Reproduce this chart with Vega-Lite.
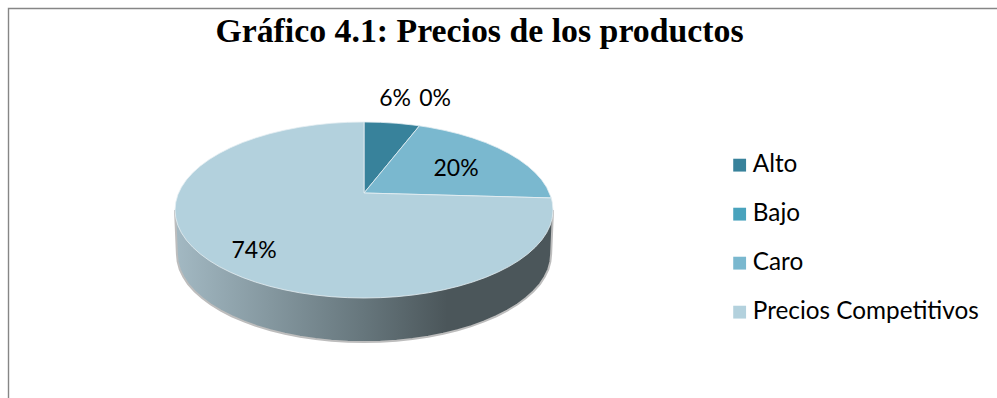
{"$schema":"https://vega.github.io/schema/vega-lite/v6.json","width":997,"height":398,"padding":0,"autosize":{"type":"none"},"background":"white","view":{"stroke":null},
"title":{"text":"Gráfico 4.1: Precios de los productos","font":"Liberation Serif","fontWeight":"bold","fontSize":33.8,"color":"#000000","anchor":"middle","dx":-19,"dy":53},
"config":{"axis":{"disable":true}},
"datasets":{
"marco":[{"i":0,"x":3.36,"y":2.29},{"i":1,"x":-1.881,"y":2.29},{"i":2,"x":-1.881,"y":-2.14}],
"lateral":[{"i":0,"x":1,"y":0},{"i":1,"x":0.99,"y":-0.5},{"i":2,"x":0.986,"y":-0.587},{"i":3,"x":0.975,"y":-0.674},{"i":4,"x":0.956,"y":-0.759},{"i":5,"x":0.931,"y":-0.842},{"i":6,"x":0.897,"y":-0.923},{"i":7,"x":0.857,"y":-1},{"i":8,"x":0.811,"y":-1.074},{"i":9,"x":0.758,"y":-1.143},{"i":10,"x":0.7,"y":-1.207},{"i":11,"x":0.636,"y":-1.266},{"i":12,"x":0.568,"y":-1.319},{"i":13,"x":0.495,"y":-1.366},{"i":14,"x":0.419,"y":-1.406},{"i":15,"x":0.339,"y":-1.44},{"i":16,"x":0.256,"y":-1.466},{"i":17,"x":0.172,"y":-1.485},{"i":18,"x":0.086,"y":-1.496},{"i":19,"x":0,"y":-1.5},{"i":20,"x":-0.086,"y":-1.496},{"i":21,"x":-0.172,"y":-1.485},{"i":22,"x":-0.256,"y":-1.466},{"i":23,"x":-0.339,"y":-1.44},{"i":24,"x":-0.419,"y":-1.406},{"i":25,"x":-0.495,"y":-1.366},{"i":26,"x":-0.568,"y":-1.319},{"i":27,"x":-0.636,"y":-1.266},{"i":28,"x":-0.7,"y":-1.207},{"i":29,"x":-0.758,"y":-1.143},{"i":30,"x":-0.811,"y":-1.074},{"i":31,"x":-0.857,"y":-1},{"i":32,"x":-0.897,"y":-0.923},{"i":33,"x":-0.931,"y":-0.842},{"i":34,"x":-0.956,"y":-0.759},{"i":35,"x":-0.975,"y":-0.674},{"i":36,"x":-0.986,"y":-0.587},{"i":37,"x":-0.99,"y":-0.5},{"i":38,"x":-1,"y":0}],
"sectores":[
{"c":"Alto","i":0,"x":0,"y":0.193},{"c":"Alto","i":1,"x":0,"y":1},{"c":"Alto","i":2,"x":0.087,"y":0.996},{"c":"Alto","i":3,"x":0.174,"y":0.985},{"c":"Alto","i":4,"x":0.259,"y":0.966},{"c":"Alto","i":5,"x":0.293,"y":0.956},{"c":"Alto","i":6,"x":0,"y":0.193},
{"c":"Caro","i":0,"x":0,"y":0.193},{"c":"Caro","i":1,"x":0.293,"y":0.956},{"c":"Caro","i":2,"x":0.342,"y":0.94},{"c":"Caro","i":3,"x":0.423,"y":0.906},{"c":"Caro","i":4,"x":0.5,"y":0.866},{"c":"Caro","i":5,"x":0.574,"y":0.819},{"c":"Caro","i":6,"x":0.643,"y":0.766},{"c":"Caro","i":7,"x":0.707,"y":0.707},{"c":"Caro","i":8,"x":0.766,"y":0.643},{"c":"Caro","i":9,"x":0.819,"y":0.574},{"c":"Caro","i":10,"x":0.866,"y":0.5},{"c":"Caro","i":11,"x":0.906,"y":0.423},{"c":"Caro","i":12,"x":0.94,"y":0.342},{"c":"Caro","i":13,"x":0.966,"y":0.259},{"c":"Caro","i":14,"x":0.991,"y":0.137},{"c":"Caro","i":15,"x":0,"y":0.193},
{"c":"Precios Competitivos","i":0,"x":0,"y":0.193},{"c":"Precios Competitivos","i":1,"x":0.991,"y":0.137},{"c":"Precios Competitivos","i":2,"x":0.996,"y":0.087},{"c":"Precios Competitivos","i":3,"x":1,"y":0},{"c":"Precios Competitivos","i":4,"x":0.996,"y":-0.087},{"c":"Precios Competitivos","i":5,"x":0.985,"y":-0.174},{"c":"Precios Competitivos","i":6,"x":0.966,"y":-0.259},{"c":"Precios Competitivos","i":7,"x":0.94,"y":-0.342},{"c":"Precios Competitivos","i":8,"x":0.906,"y":-0.423},{"c":"Precios Competitivos","i":9,"x":0.866,"y":-0.5},{"c":"Precios Competitivos","i":10,"x":0.819,"y":-0.574},{"c":"Precios Competitivos","i":11,"x":0.766,"y":-0.643},{"c":"Precios Competitivos","i":12,"x":0.707,"y":-0.707},{"c":"Precios Competitivos","i":13,"x":0.643,"y":-0.766},{"c":"Precios Competitivos","i":14,"x":0.574,"y":-0.819},{"c":"Precios Competitivos","i":15,"x":0.5,"y":-0.866},{"c":"Precios Competitivos","i":16,"x":0.423,"y":-0.906},{"c":"Precios Competitivos","i":17,"x":0.342,"y":-0.94},{"c":"Precios Competitivos","i":18,"x":0.259,"y":-0.966},{"c":"Precios Competitivos","i":19,"x":0.174,"y":-0.985},{"c":"Precios Competitivos","i":20,"x":0.087,"y":-0.996},{"c":"Precios Competitivos","i":21,"x":0,"y":-1},{"c":"Precios Competitivos","i":22,"x":-0.087,"y":-0.996},{"c":"Precios Competitivos","i":23,"x":-0.174,"y":-0.985},{"c":"Precios Competitivos","i":24,"x":-0.259,"y":-0.966},{"c":"Precios Competitivos","i":25,"x":-0.342,"y":-0.94},{"c":"Precios Competitivos","i":26,"x":-0.423,"y":-0.906},{"c":"Precios Competitivos","i":27,"x":-0.5,"y":-0.866},{"c":"Precios Competitivos","i":28,"x":-0.574,"y":-0.819},{"c":"Precios Competitivos","i":29,"x":-0.643,"y":-0.766},{"c":"Precios Competitivos","i":30,"x":-0.707,"y":-0.707},{"c":"Precios Competitivos","i":31,"x":-0.766,"y":-0.643},{"c":"Precios Competitivos","i":32,"x":-0.819,"y":-0.574},{"c":"Precios Competitivos","i":33,"x":-0.866,"y":-0.5},{"c":"Precios Competitivos","i":34,"x":-0.906,"y":-0.423},{"c":"Precios Competitivos","i":35,"x":-0.94,"y":-0.342},{"c":"Precios Competitivos","i":36,"x":-0.966,"y":-0.259},{"c":"Precios Competitivos","i":37,"x":-0.985,"y":-0.174},{"c":"Precios Competitivos","i":38,"x":-0.996,"y":-0.087},{"c":"Precios Competitivos","i":39,"x":-1,"y":0},{"c":"Precios Competitivos","i":40,"x":-0.996,"y":0.087},{"c":"Precios Competitivos","i":41,"x":-0.985,"y":0.174},{"c":"Precios Competitivos","i":42,"x":-0.966,"y":0.259},{"c":"Precios Competitivos","i":43,"x":-0.94,"y":0.342},{"c":"Precios Competitivos","i":44,"x":-0.906,"y":0.423},{"c":"Precios Competitivos","i":45,"x":-0.866,"y":0.5},{"c":"Precios Competitivos","i":46,"x":-0.819,"y":0.574},{"c":"Precios Competitivos","i":47,"x":-0.766,"y":0.643},{"c":"Precios Competitivos","i":48,"x":-0.707,"y":0.707},{"c":"Precios Competitivos","i":49,"x":-0.643,"y":0.766},{"c":"Precios Competitivos","i":50,"x":-0.574,"y":0.819},{"c":"Precios Competitivos","i":51,"x":-0.5,"y":0.866},{"c":"Precios Competitivos","i":52,"x":-0.423,"y":0.906},{"c":"Precios Competitivos","i":53,"x":-0.342,"y":0.94},{"c":"Precios Competitivos","i":54,"x":-0.259,"y":0.966},{"c":"Precios Competitivos","i":55,"x":-0.174,"y":0.985},{"c":"Precios Competitivos","i":56,"x":-0.087,"y":0.996},{"c":"Precios Competitivos","i":57,"x":0,"y":1},{"c":"Precios Competitivos","i":58,"x":0,"y":0.193}
],
"etiquetas":[{"c":"Alto","valor":"6%","x":0.164,"y":1.262},{"c":"Bajo","valor":"0%","x":0.376,"y":1.262},{"c":"Caro","valor":"20%","x":0.487,"y":0.466},{"c":"Precios Competitivos","valor":"74%","x":-0.582,"y":-0.466}]
},
"encoding":{
"x":{"field":"x","type":"quantitative","axis":null,"scale":{"domain":[-1.926,3.349],"nice":false,"zero":false}},
"y":{"field":"y","type":"quantitative","axis":null,"scale":{"domain":[-2.136,2.386],"nice":false,"zero":false}}
},
"layer":[
{"data":{"name":"marco"},"mark":{"type":"line","stroke":"#868686","strokeWidth":1.4,"clip":true},"encoding":{"order":{"field":"i","type":"ordinal"}}},
{"data":{"name":"lateral"},"mark":{"type":"line","stroke":"#bdbdbd","strokeWidth":2,"fill":{"gradient":"linear","x1":0,"y1":0,"x2":1,"y2":0,"stops":[{"offset":0,"color":"#a3b9c3"},{"offset":0.5,"color":"#66767c"},{"offset":0.72,"color":"#4b565a"},{"offset":1,"color":"#4b565a"}]}},"encoding":{"order":{"field":"i","type":"ordinal"}}},
{"data":{"name":"sectores"},"mark":{"type":"line","filled":true,"stroke":"#e6eff3","strokeWidth":0.8},"encoding":{"order":{"field":"i","type":"ordinal"},"fill":{"field":"c","type":"nominal","scale":{"domain":["Alto","Bajo","Caro","Precios Competitivos"],"range":["#38829b","#49a3bd","#7ab8cf","#b3d1dd"]},"legend":{"title":null,"orient":"none","legendX":727.5,"legendY":153,"symbolType":"square","symbolSize":165,"symbolStrokeWidth":0,"labelFont":"Lato","labelFontSize":24.3,"labelColor":"#000000","labelLimit":400,"rowPadding":24,"labelOffset":1}}}},
{"data":{"name":"etiquetas"},"mark":{"type":"text","font":"Lato","fontSize":23,"color":"#000000","align":"center","baseline":"middle"},"encoding":{"text":{"field":"valor","type":"nominal"}}}
]}
